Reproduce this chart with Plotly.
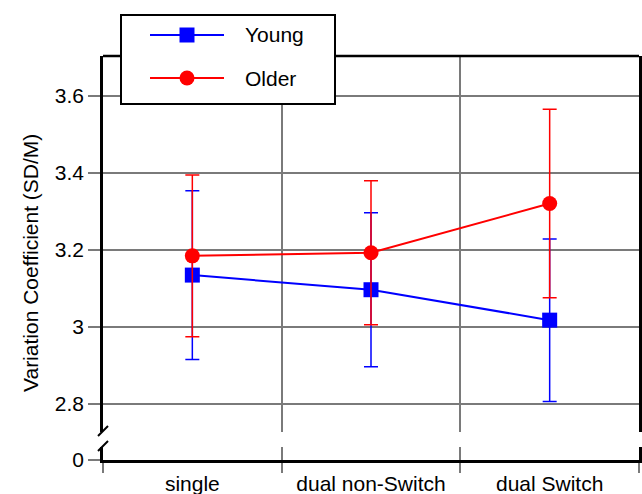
import plotly.graph_objects as go

categories = ["single", "dual non-Switch", "dual Switch"]
young_mean = [3.134, 3.096, 3.017]
young_err = [0.219, 0.200, 0.211]
older_mean = [3.184, 3.192, 3.320]
older_err = [0.210, 0.187, 0.245]
ytick_vals = [2.8, 3.0, 3.2, 3.4, 3.6]
ytick_text = ["2.8", "3", "3.2", "3.4", "3.6"]
series_names = ["Young", "Older"]
series_colors = ["#0000ff", "#ff0000"]

W, H = 642, 494
L, R, T, B = 103, 3, 56, 34
PW, PH = W - L - R, H - T - B

def px_x(px):
    return (px - L) / PW

def px_y(py):
    return (H - B - py) / PH

FONT = "Liberation Sans, Arial, Helvetica, sans-serif"
GRID = "#7a7a7a"

fig = go.Figure()
fig.add_trace(go.Scatter(
    x=categories, y=young_mean, name=series_names[0], mode="lines+markers",
    line=dict(color=series_colors[0], width=2),
    marker=dict(symbol="square", size=15, color=series_colors[0]),
    error_y=dict(type="data", array=young_err, visible=True, color=series_colors[0], thickness=1.5, width=7),
    xaxis="x", yaxis="y", showlegend=False,
))
fig.add_trace(go.Scatter(
    x=categories, y=older_mean, name=series_names[1], mode="lines+markers",
    line=dict(color=series_colors[1], width=2),
    marker=dict(symbol="circle", size=15, color=series_colors[1]),
    error_y=dict(type="data", array=older_err, visible=True, color=series_colors[1], thickness=1.5, width=7),
    xaxis="x", yaxis="y", showlegend=False,
))
# invisible trace to create the lower (zero) panel
fig.add_trace(go.Scatter(x=categories, y=[None, None, None], showlegend=False,
                         hoverinfo="skip", xaxis="x", yaxis="y2"))

main_bottom = px_y(432)
low_top = px_y(447)

fig.update_layout(
    width=W, height=H,
    margin=dict(l=L, r=R, t=T, b=B, autoexpand=False),
    paper_bgcolor="white", plot_bgcolor="white",
    font=dict(family=FONT, size=21, color="black"),
    showlegend=False,
    xaxis=dict(
        type="category", categoryorder="array", categoryarray=categories,
        range=[-0.5, 2.5], anchor="y2", tickson="boundaries",
        ticks="outside", ticklen=10, tickcolor=GRID, tickwidth=1.5,
        showgrid=True, gridcolor=GRID, gridwidth=1.5,
        showline=True, linecolor="black", linewidth=2.5,
        tickfont=dict(size=21), zeroline=False, ticklabelstandoff=3,
        automargin=False,
    ),
    yaxis=dict(
        domain=[main_bottom, 1], range=[2.7265, 3.703], anchor="x",
        tickvals=ytick_vals, ticktext=ytick_text,
        ticks="outside", ticklen=12, tickcolor=GRID, tickwidth=1.5,
        showgrid=True, gridcolor=GRID, gridwidth=1.5,
        showline=True, linecolor="black", linewidth=2.5, mirror=True,
        zeroline=False, tickfont=dict(size=21), automargin=False,
    ),
    yaxis2=dict(
        domain=[0, low_top], range=[0, 1], anchor="x",
        tickvals=[0], ticktext=["0"],
        ticks="outside", ticklen=12, tickcolor=GRID, tickwidth=1.5,
        showgrid=False, showline=True, linecolor="black", linewidth=2.5, mirror=True,
        zeroline=False, tickfont=dict(size=21), automargin=False,
    ),
)

# top border
fig.add_shape(type="line", xref="paper", yref="paper", x0=0, x1=1, y0=1, y1=1,
              line=dict(color="black", width=2.5), layer="above")
# axis break marks
for (x0, y0, x1, y1) in [(98, 436, 108, 426), (98, 451, 108, 441)]:
    fig.add_shape(type="line", xref="paper", yref="paper",
                  x0=px_x(x0), y0=px_y(y0), x1=px_x(x1), y1=px_y(y1),
                  line=dict(color="black", width=2))

# legend box (drawn by hand to match the original layout)
fig.add_shape(type="rect", xref="paper", yref="paper",
              x0=px_x(121), x1=px_x(335), y0=px_y(104), y1=px_y(15),
              line=dict(color="black", width=2), fillcolor="white", layer="above")
legend_rows = [35, 78]
for i, (name, color) in enumerate(zip(series_names, series_colors)):
    yy = legend_rows[i]
    fig.add_shape(type="line", xref="paper", yref="paper",
                  x0=px_x(150), x1=px_x(224), y0=px_y(yy), y1=px_y(yy),
                  line=dict(color=color, width=2), layer="above")
    fig.add_shape(type="rect" if i == 0 else "circle", xref="paper", yref="paper",
                  x0=px_x(187 - 7.5), x1=px_x(187 + 7.5),
                  y0=px_y(yy + 7.5), y1=px_y(yy - 7.5),
                  line=dict(color=color, width=0), fillcolor=color, layer="above")
    fig.add_annotation(text=name, xref="paper", yref="paper",
                       x=px_x(243), y=px_y(yy), xanchor="left", yanchor="middle",
                       showarrow=False, font=dict(size=21))

fig.add_annotation(text="Variation Coefficient (SD/M)", xref="paper", yref="paper",
                   x=px_x(30), y=px_y(263), textangle=-90, showarrow=False,
                   font=dict(size=21), xanchor="center", yanchor="middle")

fig.write_html("out.html")
